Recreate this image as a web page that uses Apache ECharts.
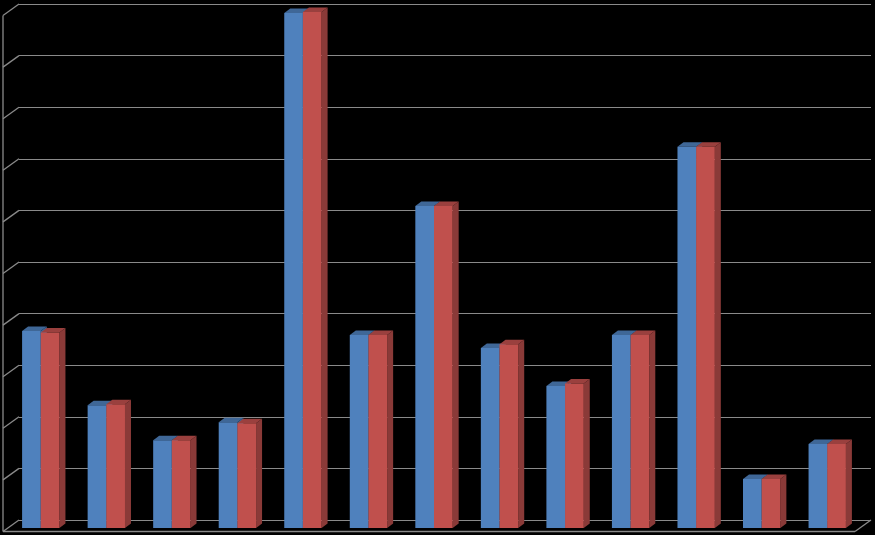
<!DOCTYPE html>
<html><head><meta charset="utf-8">
<style>html,body{margin:0;padding:0;background:#000}#c{width:875px;height:535px}</style>
<script src="https://cdn.jsdelivr.net/npm/echarts@6/dist/echarts.min.js"></script>
</head><body><div id="c"></div>
<script>
const categories = ["1","2","3","4","5","6","7","8","9","10","11","12","13"];
const blueValues = [38.2,23.8,17.0,20.5,99.8,37.4,62.4,34.9,27.5,37.4,73.9,9.5,16.3];
const redValues  = [37.9,24.0,17.0,20.3,100.0,37.4,62.4,35.6,28.0,37.4,73.9,9.5,16.3];
const yTicks = [0,10,20,30,40,50,60,70,80,90,100];

const GRID = '#8a8a8a';
const DX = -11, BASE_SHIFT = 8, DEPTH_X = 6, DEPTH_Y = 4.5, BAR = 0.285;

function barItem(side, front, top, sideColor){
  return function(params, api){
    const p = api.coord([api.value(0), api.value(1)]);
    const z = api.coord([api.value(0), 0]);
    const w = api.size([1,0])[0] * BAR;
    const x0 = p[0] + DX + (side === 0 ? -w : 0), x1 = x0 + w;
    const yt = p[1] + BASE_SHIFT, yb = z[1] + BASE_SHIFT;
    const poly = (pts, fill) => ({type:'polygon', shape:{points:pts}, style:{fill:fill}});
    return {type:'group', children:[
      poly([[x1,yt],[x1+DEPTH_X,yt-DEPTH_Y],[x1+DEPTH_X,yb-DEPTH_Y],[x1,yb]], sideColor),
      poly([[x0,yt],[x0+DEPTH_X,yt-DEPTH_Y],[x1+DEPTH_X,yt-DEPTH_Y],[x1,yt]], top),
      {type:'rect', shape:{x:x0,y:yt,width:w,height:yb-yt}, style:{fill:front}}
    ]};
  };
}
function wallItem(params, api){
  const p = api.coord([0, api.value(0)]);
  const left = params.coordSys.x;
  const line = (a,b,c,d) => ({type:'line', shape:{x1:a,y1:b,x2:c,y2:d}, style:{stroke:GRID,lineWidth:1.3}});
  const kids = [line(left, p[1], left-16, p[1]+11.5)];
  if (api.value(0) === 0) {
    const right = left + params.coordSys.width;
    const top = api.coord([0, 100])[1];
    kids.push(line(left-16, top+11.5, left-16, p[1]+11.5));
    kids.push(line(left-16, p[1]+11.5, right-16, p[1]+11.5));
    kids.push(line(right-16, p[1]+11.5, right, p[1]));
  }
  return {type:'group', children:kids};
}
const option = {
  animation:false,
  backgroundColor:'#000',
  grid:{left:19,right:4,top:4,bottom:15},
  xAxis:{type:'category',data:categories,axisLine:{show:false},axisTick:{show:false},axisLabel:{show:false}},
  yAxis:{type:'value',min:0,max:100,interval:10,
    axisLine:{show:false},axisTick:{show:false},axisLabel:{show:false},
    splitLine:{show:true,lineStyle:{color:GRID,width:1.2}}},
  series:[
    {type:'custom',name:'wall',clip:false,silent:true,renderItem:wallItem,data:yTicks.map(v=>[v]),encode:{y:0},z:1},
    {type:'custom',name:'A',clip:false,renderItem:barItem(0,'#4F81BD','#3F6797','#3F6797'),
     data:blueValues.map((v,i)=>[i,v]),encode:{x:0,y:1},z:2},
    {type:'custom',name:'B',clip:false,renderItem:barItem(1,'#C0504D','#9A403E','#8A3A38'),
     data:redValues.map((v,i)=>[i,v]),encode:{x:0,y:1},z:3}
  ]
};
echarts.init(document.getElementById('c'),null,{renderer:'canvas'}).setOption(option);
</script></body></html>
